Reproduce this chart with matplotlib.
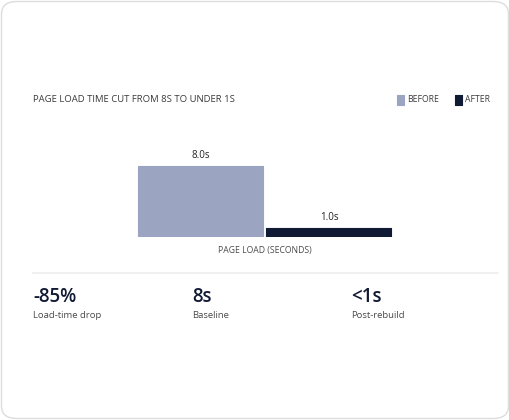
import matplotlib
matplotlib.use("Agg")
import matplotlib.pyplot as plt
from matplotlib.patches import FancyBboxPatch, Rectangle

plt.rcParams['font.family'] = ['Open Sans', 'DejaVu Sans']

# data
series = ['BEFORE', 'AFTER']
values = [8.0, 1.0]
colors = ['#9ba4c1', '#111a35']
category = 'PAGE LOAD (SECONDS)'
kpi_values = ['-85%', '8s', '<1s']
kpi_labels = ['Load-time drop', 'Baseline', 'Post-rebuild']

W, H = 510, 420
fig = plt.figure(figsize=(W / 100, H / 100), dpi=100)

def fx(px):
    return px / W

def fy(py):
    return 1 - py / H

# card
card = FancyBboxPatch((fx(1.5), fy(418.5)), fx(507), 417 / H,
                      boxstyle="round,pad=0,rounding_size=0.03",
                      transform=fig.transFigure, facecolor='white',
                      edgecolor='#dddddd', linewidth=1, zorder=-10)
fig.patches.append(card)

# title
fig.text(fx(33), fy(100), 'PAGE LOAD TIME CUT FROM 8S TO UNDER 1S',
         fontsize=6.8, color='#3a3a3a', va='center', ha='left',
         fontweight='medium')

# legend
leg_x = [397, 455]
for i, name in enumerate(series):
    fig.patches.append(Rectangle((fx(leg_x[i]), fy(104.5)), fx(7), 9 / H,
                                 transform=fig.transFigure, facecolor=colors[i],
                                 edgecolor=colors[i], linewidth=0.8,
                                 joinstyle='round'))
    fig.text(fx(leg_x[i] + 10), fy(100), name, fontsize=6.2,
             color='#3a3a3a', va='center', ha='left', fontweight='medium')

# bars
ax_left, ax_right = 120, 410
ax_bottom = 237
px_per_unit = 71 / 8
ymax = 10
ax = fig.add_axes([fx(ax_left), fy(ax_bottom), fx(ax_right - ax_left),
                   ymax * px_per_unit / H])
ax.set_xlim(-0.5, 0.5)
ax.set_ylim(0, ymax)
bw = 125 / (ax_right - ax_left)
off = 64 / (ax_right - ax_left)
xs = [-off, off]
for i in range(len(series)):
    ax.bar(xs[i], values[i], width=bw, color=colors[i], edgecolor=colors[i],
           linewidth=0.8, joinstyle='round')
    ax.text(xs[i], values[i] + 0.6, '%.1fs' % values[i], ha='center',
            va='bottom', fontsize=7, color='#222222', fontweight='medium')
ax.axis('off')

fig.text(fx(265), fy(251), category, fontsize=6.2, color='#4a4a4a',
         ha='center', va='center', fontweight='medium')

# divider
fig.add_artist(plt.Line2D([fx(33), fx(498)], [fy(273), fy(273)],
                          color='#eeeeee', linewidth=1.2))

# kpis
kpi_x = [33, 192, 351]
for i in range(len(kpi_values)):
    fig.text(fx(kpi_x[i]), fy(297), kpi_values[i], fontsize=13.5,
             color='#111a35', ha='left', va='center', fontweight='semibold')
    fig.text(fx(kpi_x[i]), fy(316), kpi_labels[i], fontsize=6.8,
             color='#4a4a4a', ha='left', va='center')

fig.savefig('out.png', dpi=100)
